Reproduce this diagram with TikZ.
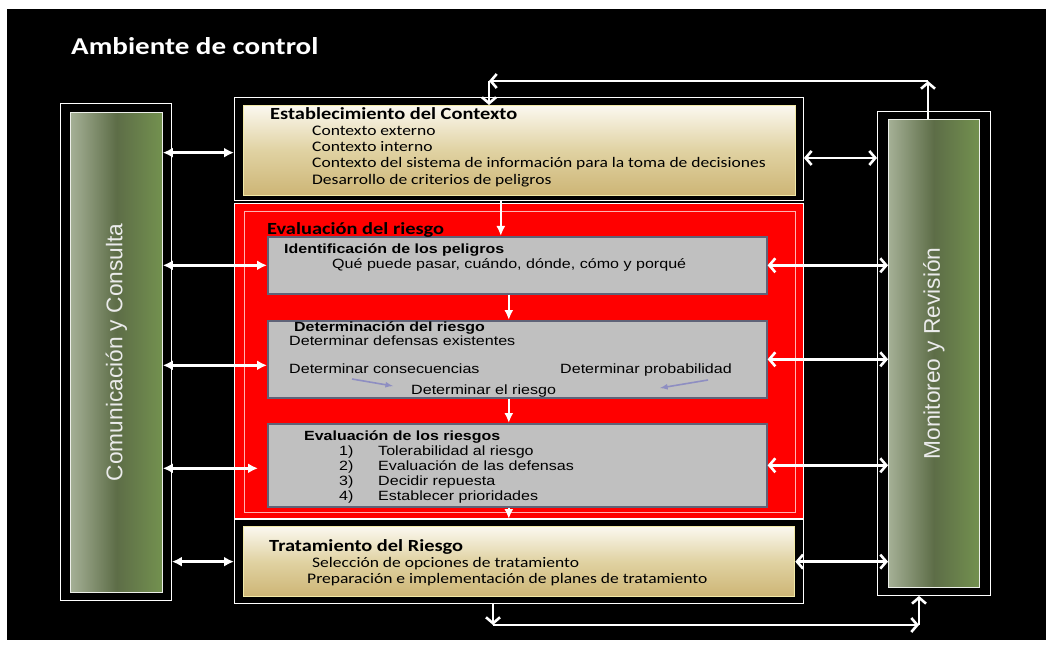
\documentclass[tikz,border=0pt]{standalone}
\usepackage{fontspec}
\setmainfont{Carlito}[FakeStretch=1.2]
\newfontfamily\arialfont{Liberation Sans}[FakeStretch=1.2]
\newfontfamily\arialside{Liberation Sans}
\usepackage{tikz}
\usetikzlibrary{positioning}
\usetikzlibrary{arrows.meta}
\usepackage{xcolor}

\definecolor{beigetop}{HTML}{FBF8EF}
\definecolor{beigemid}{HTML}{E0D2A2}
\definecolor{beigebot}{HTML}{CDB575}
\definecolor{beigeline}{HTML}{F2E9A6}
\definecolor{greenleft}{HTML}{A5B096}
\definecolor{greenmid}{HTML}{5D6D47}
\definecolor{greenright}{HTML}{73914F}
\definecolor{boxgray}{HTML}{C0C0C0}
\definecolor{boxline}{HTML}{5F6378}
\definecolor{lavender}{HTML}{8E8EC2}

\tikzset{
  framebox/.style={draw=white,line width=0.9pt,fill=black,anchor=north west,inner sep=0pt},
  beigebox/.style={draw=beigeline,line width=1.3pt,top color=beigetop,bottom color=beigebot,middle color=beigemid,anchor=north west,inner sep=0pt},
  greenbox/.style={draw=white!80!greenleft,line width=0.8pt,left color=greenleft,right color=greenright,middle color=greenmid,anchor=north west,inner sep=0pt},
  redbox/.style={draw=white,line width=0.9pt,fill=red,anchor=north west,inner sep=0pt},
  redline/.style={draw=white!70!red,line width=1.3pt,anchor=north west,inner sep=0pt},
  graybox/.style={draw=boxline,line width=1.6pt,fill=boxgray,anchor=north west,inner sep=0pt},
  chead/.style={anchor=base west,inner sep=0pt,font=\bfseries\fontsize{17}{19}\selectfont},
  citem/.style={anchor=base west,inner sep=0pt,font=\fontsize{14.6}{17}\selectfont},
  ahead/.style={anchor=base west,inner sep=0pt,font=\arialfont\bfseries\fontsize{13.3}{15}\selectfont},
  aitem/.style={anchor=base west,inner sep=0pt,font=\arialfont\fontsize{13.4}{16}\selectfont},
  sidetext/.style={rotate=90,text=white!92!black,font=\arialside\fontsize{22.7}{26}\selectfont},
  lboth/.style={arrows={Latex[length=10pt,width=10pt]-Latex[length=10pt,width=10pt]}},
  rboth/.style={arrows={Straight Barb[length=6pt,width=14pt]-Straight Barb[length=6pt,width=14pt]}},
  barb/.style={arrows={-Straight Barb[length=6pt,width=14pt]}},
  down/.style={arrows={-Latex[length=10pt,width=9pt]}}
}

\begin{document}
\begin{tikzpicture}[x=1pt,y=-1pt]
  \useasboundingbox (0,0) rectangle (1052,647);
  \fill[white] (0,0) rectangle (1052,647);
  \fill[black] (7,9) rectangle (1046,640);
  \node[anchor=base west,inner sep=0pt,text=white,font=\bfseries\fontsize{24.2}{28}\selectfont] (title) at (71,55) {Ambiente de control};

  \node[framebox,minimum width=111,minimum height=497] (commframe) at (60,103) {};
  \node[greenbox,minimum width=92,minimum height=480] (comm) at (70,112) {};
  \node[sidetext] (commtext) at (comm.center) {Comunicación y Consulta};
  \node[framebox,minimum width=113,minimum height=484] (monframe) at (877,111) {};
  \node[greenbox,minimum width=91,minimum height=468] (mon) at (888,119) {};
  \node[sidetext] (montext) at (mon.center) {Monitoreo y Revisión};

  \node[framebox,minimum width=569,minimum height=103] (ctxframe) at (234,97) {};
  \node[beigebox,minimum width=552,minimum height=90] (ctx) at (243,105) {};
  \node[redbox,minimum width=569,minimum height=315] (riskframe) at (234,203) {};
  \node[redline,minimum width=551,minimum height=301] (risk) at (244,211) {};
  \node[framebox,minimum width=569,minimum height=84] (treatframe) at (234,519) {};
  \node[beigebox,minimum width=551,minimum height=70] (treat) at (243,526) {};
  \node[graybox,minimum width=499,minimum height=57] (iden) at (267,236) {};
  \node[graybox,minimum width=499,minimum height=77] (det) at (267,320) {};
  \node[graybox,minimum width=499,minimum height=83] (eval) at (267,423) {};

  \node[chead] (ctxhead) at (270,120) {Establecimiento del Contexto};
  \node[citem] (ctx1) at (312,136) {Contexto externo};
  \node[citem] (ctx2) at (312,152) {Contexto interno};
  \node[citem] (ctx3) at (312,168) {Contexto del sistema de información para la toma de decisiones};
  \node[citem] (ctx4) at (312,185) {Desarrollo de criterios de peligros};
  \node[chead] (riskhead) at (267,234) {Evaluación del riesgo};
  \node[ahead] (idenhead) at (284,254) {Identificación de los peligros};
  \node[aitem] (iden1) at (332,269) {Qué puede pasar, cuándo, dónde, cómo y porqué};
  \node[ahead] (dethead) at (294,331) {Determinación del riesgo};
  \node[aitem] (det1) at (289,345) {Determinar defensas existentes};
  \node[aitem] (dcons) at (289,373) {Determinar consecuencias};
  \node[aitem] (dprob) at (560,373) {Determinar probabilidad};
  \node[aitem] (drisk) at (411,394) {Determinar el riesgo};
  \node[ahead] (evalhead) at (304,440) {Evaluación de los riesgos};
  \node[aitem] (evaln1) at (339,455) {1)};
  \node[aitem] (eval1) at (378,455) {Tolerabilidad al riesgo};
  \node[aitem] (evaln2) at (339,470) {2)};
  \node[aitem] (eval2) at (378,470) {Evaluación de las defensas};
  \node[aitem] (evaln3) at (339,485) {3)};
  \node[aitem] (eval3) at (378,485) {Decidir repuesta};
  \node[aitem] (evaln4) at (339,500) {4)};
  \node[aitem] (eval4) at (378,500) {Establecer prioridades};
  \node[chead] (treathead) at (269,551) {Tratamiento del Riesgo};
  \node[citem] (treat1) at (312,567) {Selección de opciones de tratamiento};
  \node[citem] (treat2) at (307,583) {Preparación e implementación de planes de tratamiento};

  \coordinate (consfrom) at (352,379);
  \coordinate (consto) at (393,386);
  \coordinate (probfrom) at (708,380);
  \coordinate (probto) at (660,388);
  \coordinate (topright) at (928,81);
  \coordinate (topleft) at (489,81);
  \coordinate (botleft) at (493,625);
  \coordinate (botright) at (919,625);
  \coordinate (ctxleft) at ([yshift=-2pt]ctx.west);
  \coordinate (detleft) at ([yshift=-6pt]det.west);
  \coordinate (evalleft) at ([yshift=-3pt]eval.west);
  \coordinate (ctxright) at ([yshift=-9pt]ctxframe.east);
  \coordinate (flowa) at ([xshift=-16.5pt]iden.north);
  \coordinate (flowb) at ([xshift=-8.5pt]det.north);
  \coordinate (flowc) at ([xshift=-8.5pt]eval.north);

  \begin{scope}[lavender,line width=1.6pt,>=latex]
    \draw[->] (consfrom) -- (consto);
    \draw[->] (probfrom) -- (probto);
  \end{scope}
  \begin{scope}[white,line width=2.6pt]
    \draw[lboth] (comm.east |- ctxleft) -- (ctxleft -| ctxframe.west);
    \draw[lboth] (comm.east |- iden.west) -- (iden.west);
    \draw[lboth] (comm.east |- detleft) -- (detleft);
    \draw[lboth,shorten >=9pt] (comm.east |- evalleft) -- (evalleft);
    \draw[lboth] (commframe.east |- treat.west) -- (treat.west -| treatframe.west);
    \draw[rboth] (ctxright) -- (ctxright -| monframe.west);
    \draw[rboth] (iden.east) -- (iden.east -| mon.west);
    \draw[rboth] (det.east) -- (det.east -| mon.west);
    \draw[rboth] (eval.east) -- (eval.east -| mon.west);
    \draw[rboth] (treat.east) -- (treat.east -| mon.west);
    \draw[barb] (topright |- mon.north) -- (topright);
    \draw[barb] (topright) -- (topleft);
    \draw[barb] (topleft) -- (topleft |- ctx.north);
    \draw[barb] (botleft |- treatframe.south) -- (botleft);
    \draw[barb] (botleft) -- (botright);
    \draw[barb] (botright) -- (botright |- monframe.south);
    \draw[down] (flowa |- ctxframe.south) -- (flowa);
    \draw[down] (flowb |- iden.south) -- (flowb);
    \draw[down] (flowc |- det.south) -- (flowc);
    \draw[down] (flowc |- eval.south) -- (flowc |- treatframe.north);
  \end{scope}
\end{tikzpicture}
\end{document}
